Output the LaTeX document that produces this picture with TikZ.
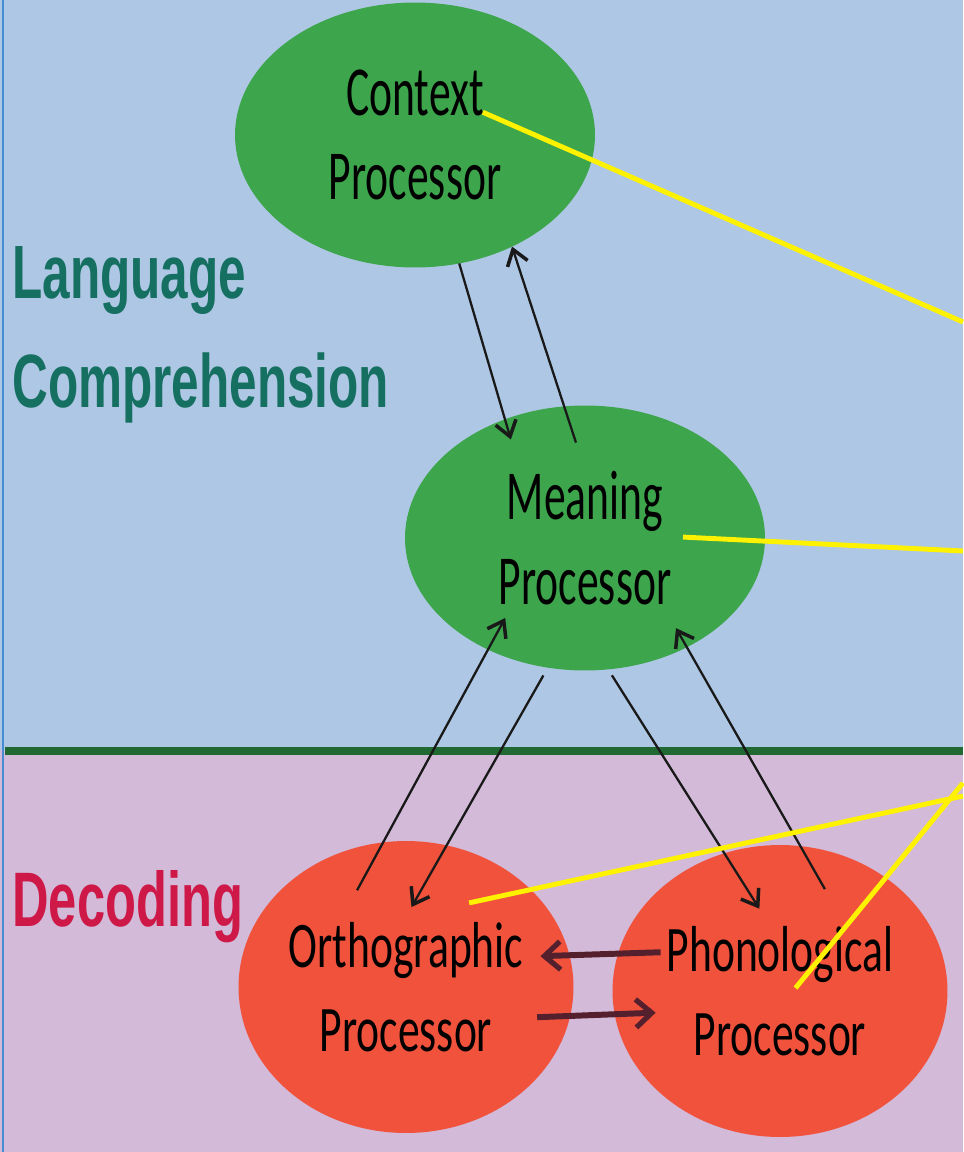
\documentclass[tikz,border=0pt]{standalone}
\usepackage{fontspec}
\usepackage{tikz}
\usetikzlibrary{shapes,shapes.geometric,arrows.meta,positioning}
\newfontfamily\procfont{Carlito}[FakeStretch=0.62]
\newfontfamily\procfontb{Carlito}[FakeStretch=0.67]
\newfontfamily\strandfont{Liberation Sans Bold}[FakeStretch=0.655]
\definecolor{bgblue}{RGB}{174,199,228}
\definecolor{bgpink}{RGB}{210,186,216}
\definecolor{procgreen}{RGB}{61,165,76}
\definecolor{procred}{RGB}{240,82,60}
\definecolor{linegreen}{RGB}{33,105,51}
\definecolor{langteal}{RGB}{22,112,98}
\definecolor{decred}{RGB}{206,24,72}
\definecolor{edgeblue}{RGB}{70,140,210}
\definecolor{arrowdark}{RGB}{85,32,45}
\tikzset{
  proc/.style={ellipse, inner sep=0pt, outer sep=0pt, align=center, text=black},
  langproc/.style={proc, fill=procgreen, minimum width=7.2cm, minimum height=5.3cm, font=\procfont\fontsize{40}{48}\selectfont},
  decproc/.style={proc, fill=procred, minimum width=6.7cm, minimum height=5.84cm, font=\procfontb\fontsize{37}{48}\selectfont},
  strand/.style={anchor=base west, inner sep=0pt, font=\strandfont\fontsize{43}{52}\selectfont},
  link/.style={draw=black!90, line width=1.3pt, -{Straight Barb[length=8.5pt,width=12pt,line width=2pt]}},
  cross/.style={draw=arrowdark, line width=3.4pt, -{Straight Barb[length=9pt,width=16pt,line width=3pt]}},
  pointer/.style={draw=yellow, line width=2.8pt}
}
\begin{document}
\begin{tikzpicture}[x=0.02cm, y=-0.02cm]
    \useasboundingbox (0,0) rectangle (963,1152);
    \fill[bgblue] (0,0) rectangle (963,750);
    \fill[bgpink] (0,750) rectangle (963,1152);
    \draw[linegreen, line width=4.5pt] (5,751) -- (963,751);
    \draw[edgeblue, line width=1.2pt] (3,0) -- (3,1152);

    \node[strand, text=langteal] (lang) at (12,298) {Language};
    \node[strand, text=langteal] (comp) at (12,407) {Comprehension};
    \node[strand, text=decred, font=\strandfont\fontsize{44}{52}\selectfont] (dec) at (12,926) {Decoding};

    \node[langproc] (ctx) at (415,135) {Context\\Processor};
    \node[langproc] (mean) at (585,538) {Meaning\\Processor};
    \node[decproc] (ortho) at (406,987) {Orthographic\\Processor};
    \node[decproc] (phono) at (780,991) {Phonological\\Processor};

    \draw[link, shorten >=-0.42cm] (ctx.-71) -- (mean.124);
    \draw[link, shorten <=-0.76cm] (mean.99) -- (ctx.-49);
    \draw[link, shorten <=-1.09cm, shorten >=-0.72cm] (ortho.99) -- (mean.229);
    \draw[link, shorten <=0.18cm, shorten >=-1.42cm] (mean.254) -- (ortho.74);
    \draw[link, shorten <=0.14cm, shorten >=-1.31cm] (mean.-80) -- (phono.112);
    \draw[link, shorten <=-0.99cm, shorten >=-0.44cm] (phono.82) -- (mean.-47);
    \draw[cross, shorten <=-0.85cm, shorten >=-0.58cm] (phono.167) -- (ortho.11);
    \draw[cross, shorten <=-0.66cm, shorten >=-0.82cm] (ortho.-10) -- (phono.188);

    \coordinate (p1) at (963,322);
    \coordinate (p2) at (963,551);
    \coordinate (p3) at (963,796);
    \coordinate (p4) at (963,783);
    \draw[pointer, shorten >=-2.38cm] (p1) -- (ctx.-8);
    \draw[pointer, shorten >=-1.64cm] (p2) -- (mean.-1);
    \draw[pointer, shorten >=-1.26cm] (p3) -- (ortho.38);
    \draw[pointer, shorten >=-2.85cm] (p4) -- (phono.47);
\end{tikzpicture}
\end{document}
